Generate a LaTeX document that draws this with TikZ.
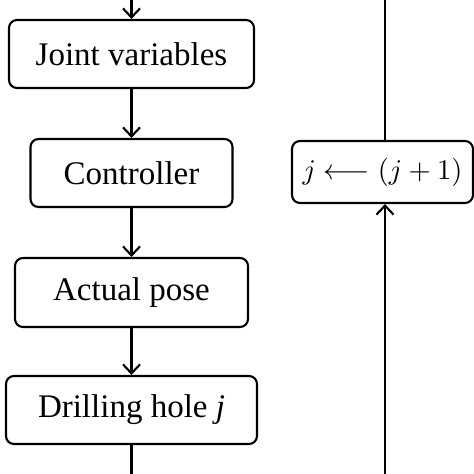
\documentclass[tikz,border=0pt]{standalone}
\usepackage{fontspec}
\setmainfont{Liberation Serif}
\usetikzlibrary{arrows.meta}
\begin{document}
\begin{tikzpicture}[x=1pt,y=-1pt,
  box/.style={draw,line width=2.1pt,rounded corners=8pt,inner sep=0pt,
    font=\fontsize{33}{38}\selectfont},
  conn/.style={line width=2.1pt},
  arr/.style={conn,-{Straight Barb[length=9pt,width=17pt,line width=2.1pt]}}]
\useasboundingbox (0,0) rectangle (474,474);
\node[box,minimum width=245pt,minimum height=68pt] (jv) at (131.5,54) {Joint variables};
\node[box,minimum width=202pt,minimum height=68pt] (ct) at (131.5,173) {Controller};
\node[box,minimum width=233pt,minimum height=69pt] (ap) at (131.5,292.5) {Actual pose};
\node[box,minimum width=251pt,minimum height=68pt] (dh) at (131.5,410) {Drilling hole \textit{j}};
\node[box,minimum width=181pt,minimum height=62pt,font=\normalsize] (up) at (382.5,172) {\scalebox{2.85}{$j \longleftarrow (j+1)$}};
\coordinate (top) at (131.5,0);
\coordinate (bot) at (131.5,474);
\coordinate (rtop) at (385,0);
\coordinate (rbot) at (385,474);
\draw[arr] (top) -- (jv.north);
\draw[arr] (jv) -- (ct);
\draw[arr] (ct) -- (ap);
\draw[arr] (ap) -- (dh);
\draw[conn] (dh) -- (bot);
\draw[conn] (rtop) -- (rtop |- up.north);
\draw[arr] (rbot) -- (rbot |- up.south);
\end{tikzpicture}
\end{document}
